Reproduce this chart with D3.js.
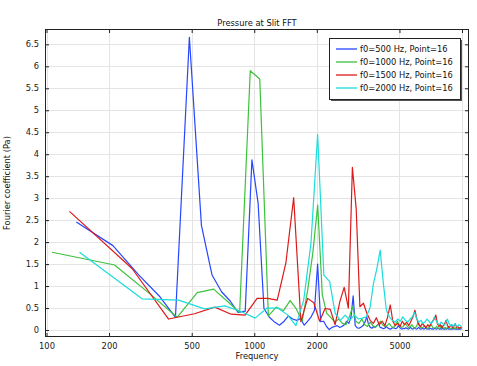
<!DOCTYPE html>
<html><head><meta charset="utf-8">
<script src="https://cdn.jsdelivr.net/npm/d3@7"></script>
<style>
body{margin:0;background:#fff;}
svg{display:block;font-family:"DejaVu Sans",sans-serif;}
</style>
</head><body><svg id="chart" width="477" height="366"></svg>
<script>
// ---------- data ----------
const chartTitle = "Pressure at Slit FFT";
const xLabel = "Frequency";
const yLabel = "Fourier coefficient (Pa)";
const xTicks = [100, 200, 500, 1000, 2000, 5000, 10000];
const xTickLabels = ["100", "200", "500", "1000", "2000", "5000", ""];
const yTicks = [0, 0.5, 1, 1.5, 2, 2.5, 3, 3.5, 4, 4.5, 5, 5.5, 6, 6.5];
const yTickLabels = ["0", "0.5", "1", "1.5", "2", "2.5", "3", "3.5", "4", "4.5", "5", "5.5", "6", "6.5"];
const seriesNames = ["f0=500 Hz, Point=16", "f0=1000 Hz, Point=16", "f0=1500 Hz, Point=16", "f0=2000 Hz, Point=16"];
const seriesColors = ["#2646ff", "#3cc23c", "#dc1a1a", "#1cdcdc"];
// FFT bin spacing (Hz) and first plotted bin of each series
const binWidths = [69.6, 106.3, 129, 144.2];
const firstBins = [2, 1, 1, 1];

const values500 = [
  2.46, 1.92, 1.25, 0.78, 0.29, 6.66, 2.38, 1.25, 0.87, 0.66,
  0.40, 0.43, 3.87, 2.88, 0.49, 0.29, 0.18, 0.11, 0.20, 0.32,
  0.25, 0.22, 0.26, 0.11, 0.20, 0.30, 0.45, 1.50, 0.19, 0.20,
  0.08, 0.01, 0.06, 0.08, 0.10, 0.06, 0.08, 0.12, 0.20, 0.15,
  0.30, 0.78, 0.10, 0.05, 0.04, 0.07, 0.10, 0.18, 0.30, 0.12,
  0.06, 0.04, 0.08, 0.06, 0.10, 0.14, 0.06,
  0.05, 0.03, 0.04, 0.08, 0.05, 0.03, 0.02, 0.04, 0.06, 0.04,
  0.03, 0.05, 0.10, 0.06, 0.03, 0.02, 0.04, 0.03, 0.05, 0.04,
  0.02, 0.03, 0.06, 0.04, 0.02, 0.03, 0.05, 0.03, 0.02, 0.04,
  0.06, 0.03, 0.02, 0.03, 0.04, 0.02, 0.03, 0.05, 0.03, 0.02,
  0.03, 0.02, 0.04, 0.03, 0.02, 0.03, 0.02, 0.04, 0.03, 0.02,
  0.03, 0.05, 0.03, 0.02, 0.03, 0.02, 0.03, 0.04, 0.02, 0.03,
  0.02, 0.03, 0.02, 0.04, 0.03, 0.02, 0.03, 0.02, 0.03, 0.02,
  0.03, 0.02, 0.04, 0.03, 0.02, 0.03, 0.02, 0.03, 0.02, 0.03,
  0.02, 0.03, 0.02, 0.03, 0.02
];
const values1000 = [
  1.77, 1.48, 0.80, 0.29, 0.85, 0.93, 0.65, 0.40, 5.90, 5.71,
  0.32, 0.52, 0.44, 0.67, 0.48, 0.20, 0.90, 1.75, 2.84, 0.80,
  0.38, 0.28, 0.18, 0.25, 0.15, 0.12, 0.30, 0.53, 0.20, 0.15,
  0.25, 0.12, 0.08, 0.18, 0.10, 0.06, 0.12, 0.20, 0.12, 0.08,
  0.10, 0.15, 0.08, 0.05, 0.12, 0.20, 0.10, 0.06, 0.08, 0.15,
  0.10, 0.05, 0.08, 0.12, 0.06, 0.04, 0.10, 0.18, 0.08, 0.05,
  0.06, 0.10, 0.07, 0.04, 0.05, 0.09, 0.12, 0.06, 0.04, 0.05,
  0.08, 0.05, 0.03, 0.06, 0.10, 0.05, 0.04, 0.06, 0.03, 0.05,
  0.08, 0.04, 0.03, 0.05, 0.04, 0.06, 0.03, 0.05, 0.04, 0.03,
  0.05, 0.04, 0.06, 0.04
];
const values1500 = [
  2.70, 1.40, 0.25, 0.37, 0.52, 0.36, 0.34, 0.72, 0.72, 0.68,
  1.52, 3.01, 0.19, 0.72, 0.62, 0.20, 0.49, 0.47, 0.12, 0.64,
  0.97, 0.50, 3.70, 2.75, 0.53, 0.61, 0.38, 0.22, 0.15, 0.28,
  0.12, 0.20, 0.10, 0.30, 0.57, 0.20, 0.10, 0.15, 0.08, 0.20,
  0.12, 0.18, 0.10, 0.20, 0.30, 0.45, 0.25, 0.12, 0.08, 0.15,
  0.10, 0.05, 0.12, 0.08, 0.15, 0.20, 0.25, 0.34, 0.15, 0.08,
  0.12, 0.05, 0.10, 0.15, 0.22, 0.10, 0.06, 0.08, 0.12, 0.05,
  0.10, 0.14, 0.06, 0.08, 0.04, 0.06, 0.05
];
const values2000 = [
  1.77, 0.71, 0.68, 0.48, 0.55, 0.42, 0.27, 0.50, 0.50, 0.35,
  0.10, 0.68, 1.97, 4.45, 1.25, 1.10, 0.38, 0.22, 0.34, 0.22,
  0.34, 0.25, 0.27, 0.30, 0.50, 1.06, 1.40, 1.82, 1.06, 0.45,
  0.30, 0.22, 0.18, 0.25, 0.20, 0.30, 0.22, 0.18, 0.25, 0.30,
  0.40, 0.25, 0.18, 0.22, 0.15, 0.18, 0.25, 0.20, 0.15, 0.18,
  0.30, 0.22, 0.15, 0.12, 0.18, 0.15, 0.10, 0.18, 0.25, 0.15,
  0.10, 0.12, 0.08, 0.14, 0.10, 0.08, 0.12, 0.10, 0.08
];
const seriesValues = [values500, values1000, values1500, values2000];

// ---------- layout ----------
const W = 477, H = 366;
const plot = {left: 45, right: 469, top: 29, bottom: 337};

const svg = d3.select("#chart");
const x = d3.scaleLog().domain([98.35, 10806]).range([plot.left, plot.right]);
const y = d3.scaleLinear().domain([-0.159, 6.849]).range([plot.bottom, plot.top]);

svg.append("rect").attr("width", W).attr("height", H).attr("fill", "#fff");

// grid
const grid = svg.append("g").attr("stroke", "#e4e4e4").attr("stroke-width", 1);
grid.selectAll("line.gx").data(xTicks).join("line")
  .attr("x1", d => Math.round(x(d)) + 0.5).attr("x2", d => Math.round(x(d)) + 0.5)
  .attr("y1", plot.top).attr("y2", plot.bottom);
grid.selectAll("line.gy").data(yTicks).join("line")
  .attr("y1", d => Math.round(y(d)) + 0.5).attr("y2", d => Math.round(y(d)) + 0.5)
  .attr("x1", plot.left).attr("x2", plot.right);

// lines
svg.append("clipPath").attr("id", "clip").append("rect")
  .attr("x", plot.left).attr("y", plot.top)
  .attr("width", plot.right - plot.left).attr("height", plot.bottom - plot.top);

const line = d3.line().x(d => x(d.f)).y(d => y(d.v));
const lineG = svg.append("g").attr("clip-path", "url(#clip)");
seriesValues.forEach((vals, s) => {
  const pts = vals.map((v, i) => ({f: (firstBins[s] + i) * binWidths[s], v: v}));
  lineG.append("path").datum(pts)
    .attr("fill", "none").attr("stroke", seriesColors[s])
    .attr("stroke-width", 1.2).attr("stroke-linejoin", "round")
    .attr("d", line);
});

// axes
const fontSize = 8.3;
function styleAxis(g) {
  g.select(".domain").remove();
  g.selectAll(".tick line").attr("stroke", "#222");
  g.selectAll("text").attr("font-size", fontSize).attr("fill", "#222")
    .attr("font-family", '"DejaVu Sans", sans-serif');
}
svg.append("g").attr("transform", `translate(0,${plot.bottom})`)
  .call(d3.axisBottom(x).tickValues(xTicks).tickFormat((d, i) => xTickLabels[i])
    .tickSizeInner(-4).tickSizeOuter(0).tickPadding(6))
  .call(styleAxis);
svg.append("g").attr("transform", `translate(0,${plot.top})`)
  .call(d3.axisTop(x).tickValues(xTicks).tickFormat("")
    .tickSizeInner(-4).tickSizeOuter(0))
  .call(styleAxis);
svg.append("g").attr("transform", `translate(${plot.left},0)`)
  .call(d3.axisLeft(y).tickValues(yTicks).tickFormat((d, i) => yTickLabels[i])
    .tickSizeInner(-4).tickSizeOuter(0).tickPadding(6))
  .call(styleAxis);
svg.append("g").attr("transform", `translate(${plot.right},0)`)
  .call(d3.axisRight(y).tickValues(yTicks).tickFormat("")
    .tickSizeInner(-4).tickSizeOuter(0))
  .call(styleAxis);

// frame
svg.append("rect").attr("x", plot.left + 0.5).attr("y", plot.top + 0.5)
  .attr("width", plot.right - plot.left - 1).attr("height", plot.bottom - plot.top - 1)
  .attr("fill", "none").attr("stroke", "#222").attr("stroke-width", 1);

// title & labels
svg.append("text").attr("x", (plot.left + plot.right) / 2).attr("y", 25.5)
  .attr("text-anchor", "middle").attr("font-size", fontSize).attr("fill", "#111").text(chartTitle);
svg.append("text").attr("x", (plot.left + plot.right) / 2).attr("y", 358.5)
  .attr("text-anchor", "middle").attr("font-size", fontSize).attr("fill", "#111").text(xLabel);
svg.append("text").attr("transform", `translate(10,${(plot.top + plot.bottom) / 2}) rotate(-90)`)
  .attr("text-anchor", "middle").attr("font-size", fontSize).attr("fill", "#111").text(yLabel);

// legend
const lg = {x: 329, y: 38, w: 131, h: 61};
svg.append("rect").attr("x", lg.x + 2).attr("y", lg.y + 2).attr("width", lg.w).attr("height", lg.h)
  .attr("fill", "#555");
svg.append("rect").attr("x", lg.x + 0.5).attr("y", lg.y + 0.5).attr("width", lg.w).attr("height", lg.h)
  .attr("fill", "#fff").attr("stroke", "#222").attr("stroke-width", 1);
const rowY = d3.scalePoint().domain(d3.range(seriesNames.length)).range([lg.y + 11, lg.y + 50]);
seriesNames.forEach((name, i) => {
  const yy = rowY(i);
  svg.append("line").attr("x1", lg.x + 7).attr("x2", lg.x + 28).attr("y1", yy).attr("y2", yy)
    .attr("stroke", seriesColors[i]).attr("stroke-width", 1.3);
  svg.append("text").attr("x", lg.x + 31).attr("y", yy + 3)
    .attr("font-size", fontSize).attr("fill", "#111").text(name);
});
</script>
</body></html>
